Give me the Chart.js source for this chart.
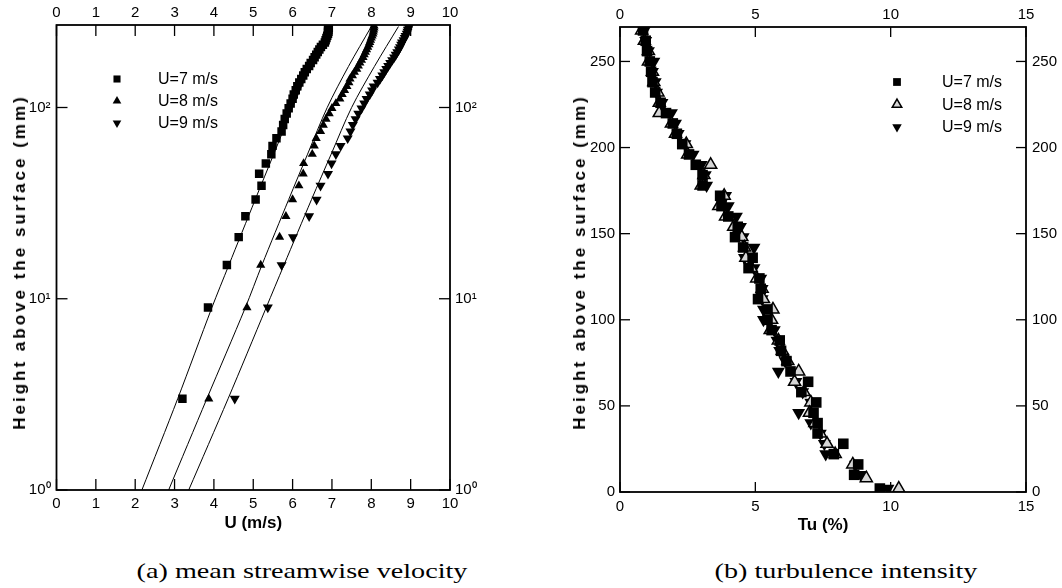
<!DOCTYPE html>
<html>
<head>
<meta charset="utf-8">
<script src="https://cdn.jsdelivr.net/npm/chart.js@4/dist/chart.umd.min.js"></script>
<style>
html,body{margin:0;padding:0;background:#fff;}
#wrap{position:relative;width:1062px;height:588px;overflow:hidden;background:#fff;}
#ca{position:absolute;left:0;top:0;}
#cb{position:absolute;left:545px;top:0;}
.ytitle{position:absolute;font:bold 17px "Liberation Sans",Arial,sans-serif;letter-spacing:3px;white-space:nowrap;color:#000;transform:translate(-50%,-50%) rotate(-90deg);}
.cap{position:absolute;font:22px "Liberation Serif","Times New Roman",serif;white-space:nowrap;color:#000;transform:translate(-50%,-50%) scaleX(1.28);}
</style>
</head>
<body>
<div id="wrap">
  <canvas id="ca" width="545" height="540"></canvas>
  <canvas id="cb" width="517" height="540"></canvas>
  <div class="ytitle" style="left:20px;top:262px;">Height above the surface (mm)</div>
  <div class="ytitle" style="left:580px;top:262px;">Height above the surface (mm)</div>
  <div class="cap" style="left:302px;top:571px;">(a) mean streamwise velocity</div>
  <div class="cap" style="left:846px;top:571px;">(b) turbulence intensity</div>
</div>
<script>
// ---------------- DATA: (a) mean streamwise velocity ----------------
const seriesNames = ['U=7 m/s', 'U=8 m/s', 'U=9 m/s'];

const heightsA = [3, 9, 15, 21, 27, 33, 39, 45, 51, 57, 63, 69, 75, 81, 87, 93, 99, 105, 111, 117, 123, 129, 135, 141, 147, 153, 159, 165, 171, 177, 183, 189, 195, 201, 207, 213, 219, 225, 231, 237, 243, 249, 255, 261, 267];
const velU7 = [3.2, 3.85, 4.33, 4.63, 4.80, 5.06, 5.21, 5.15, 5.32, 5.46, 5.49, 5.59, 5.72, 5.76, 5.80, 5.85, 5.90, 5.95, 6.00, 6.03, 6.08, 6.12, 6.17, 6.22, 6.27, 6.31, 6.36, 6.42, 6.46, 6.52, 6.56, 6.60, 6.64, 6.68, 6.72, 6.77, 6.82, 6.84, 6.86, 6.88, 6.90, 6.90, 6.91, 6.92, 6.90];
const velU8 = [3.87, 4.84, 5.19, 5.67, 5.83, 6.00, 6.16, 6.27, 6.28, 6.50, 6.55, 6.60, 6.71, 6.78, 6.85, 6.93, 7.00, 7.10, 7.20, 7.26, 7.32, 7.38, 7.43, 7.46, 7.52, 7.57, 7.63, 7.67, 7.71, 7.75, 7.79, 7.82, 7.85, 7.88, 7.91, 7.94, 7.96, 7.98, 8.00, 8.02, 8.04, 8.05, 8.06, 8.07, 8.07];
const velU9 = [4.53, 5.37, 5.72, 6.01, 6.42, 6.61, 6.71, 6.90, 6.99, 7.10, 7.22, 7.40, 7.47, 7.53, 7.60, 7.67, 7.75, 7.82, 7.88, 7.96, 8.02, 8.06, 8.16, 8.22, 8.28, 8.33, 8.38, 8.43, 8.48, 8.53, 8.58, 8.62, 8.66, 8.70, 8.73, 8.76, 8.78, 8.82, 8.85, 8.87, 8.90, 8.92, 8.93, 8.95, 8.95];

// fitted profiles (solid lines)
const fitHeights = [1, 3, 9, 15, 33, 57, 100, 164, 265];
const fitU7 = [2.17, 3.08, 3.95, 4.38, 5.05, 5.52, 6.00, 6.45, 6.90];
const fitU8 = [2.85, 3.82, 4.80, 5.22, 5.90, 6.38, 6.88, 7.42, 8.00];
const fitU9 = [3.36, 4.36, 5.33, 5.78, 6.48, 6.98, 7.50, 8.08, 8.69];

const xTicksA = [0, 1, 2, 3, 4, 5, 6, 7, 8, 9, 10];
const yTickValuesA = [1, 10, 100];
const yTickLabelsA = ['10\u2070', '10\u00B9', '10\u00B2'];

// ---------------- DATA: (b) turbulence intensity ----------------
const hTu7 = [268, 262, 256, 250, 244, 238, 232, 226, 220, 214, 208, 202, 196, 190, 184, 178, 172, 166, 160, 154, 148, 142, 136, 130, 124, 118, 112, 106, 100, 94, 88, 82, 76, 70, 64, 58, 52, 46, 40, 34, 28, 22, 16, 10, 2];
const tuU7 = [0.85, 0.95, 1.0, 1.1, 1.15, 1.2, 1.3, 1.5, 1.7, 1.95, 2.1, 2.3, 2.55, 2.8, 3.05, 3.05, 3.7, 3.75, 4.0, 4.35, 4.25, 4.55, 4.9, 4.75, 5.15, 5.2, 5.1, 5.45, 5.45, 5.6, 5.9, 5.95, 6.15, 6.3, 6.95, 6.7, 7.25, 7.15, 7.3, 7.3, 8.25, 7.9, 8.8, 8.65, 9.6];
const hTu8 = [268, 262, 256, 250, 244, 238, 232, 226, 220, 214, 208, 202, 196, 190, 184, 178, 172, 166, 160, 154, 148, 142, 136, 130, 124, 118, 112, 106, 100, 94, 88, 82, 76, 70, 64, 58, 52, 46, 40, 34, 28, 22, 16, 8, 2];
const tuU8 = [0.8, 0.9, 1.05, 1.05, 1.2, 1.25, 1.4, 1.45, 1.45, 1.9, 2.05, 2.45, 2.5, 3.35, 3.1, 3.0, 3.85, 3.65, 3.9, 4.2, 4.5, 4.6, 4.65, 4.85, 5.05, 5.25, 5.3, 5.65, 5.6, 5.55, 5.85, 6.0, 6.2, 6.6, 6.45, 6.8, 7.05, 7.0, 7.2, 7.4, 7.65, 7.95, 8.6, 9.1, 10.3];
const hTu9 = [268, 262, 256, 250, 244, 238, 232, 226, 220, 214, 208, 202, 196, 190, 184, 178, 172, 166, 160, 154, 148, 142, 136, 130, 124, 118, 112, 106, 100, 94, 88, 82, 76, 70, 64, 58, 52, 46, 40, 34, 28, 22, 16, 10, 2];
const tuU9 = [0.9, 0.95, 1.05, 1.25, 1.2, 1.3, 1.35, 1.55, 1.9, 2.05, 2.15, 2.4, 2.7, 3.0, 3.15, 3.2, 3.9, 4.0, 4.3, 4.45, 4.55, 4.95, 4.6, 4.95, 5.2, 5.25, 5.25, 5.3, 5.3, 5.7, 5.8, 5.9, 6.1, 5.85, 6.5, 6.75, 7.05, 6.6, 7.05, 7.4, 7.55, 7.6, 8.7, 8.9, 9.9];

const xTicksB = [0, 5, 10, 15];
const yTicksB = [0, 50, 100, 150, 200, 250];

// ---------------- helpers ----------------
const pts = (xs, ys) => xs.map((x, i) => ({x: x, y: ys[i]}));
const TICK_FONT = {family: '"Liberation Sans Narrow","Arial Narrow","Liberation Sans",Arial,sans-serif', size: 15};
const TITLE_FONT = {family: '"Liberation Sans",Arial,sans-serif', size: 17, weight: 'bold'};

function fallbackPoint(ctx, o, x, y) {
  const r = o.radius;
  ctx.save();
  ctx.translate(x, y);
  ctx.rotate((o.rotation || 0) * Math.PI / 180);
  ctx.beginPath();
  if (o.pointStyle === 'rect') {
    const s = r * Math.SQRT1_2;
    ctx.rect(-s, -s, 2 * s, 2 * s);
  } else {
    const w = r * Math.sqrt(3);
    ctx.moveTo(0, -r); ctx.lineTo(w / 2, r / 2); ctx.lineTo(-w / 2, r / 2); ctx.closePath();
  }
  ctx.fill();
  if (o.borderWidth) ctx.stroke();
  ctx.restore();
}
function drawSym(ctx, o, x, y) {
  if (Chart.helpers && Chart.helpers.drawPoint) Chart.helpers.drawPoint(ctx, o, x, y);
  else fallbackPoint(ctx, o, x, y);
}

const frameTicks = {
  id: 'frameTicks',
  afterDraw(chart, args, o) {
    const ctx = chart.ctx, ca = chart.chartArea, L = o.len || 10;
    ctx.save();
    ctx.strokeStyle = '#000';
    ctx.lineWidth = 1.3;
    Object.values(chart.scales).forEach(s => {
      s.ticks.forEach(t => {
        const p = s.getPixelForValue(t.value);
        ctx.beginPath();
        if (s.position === 'bottom') { ctx.moveTo(p, ca.bottom); ctx.lineTo(p, ca.bottom - L); }
        else if (s.position === 'top') { ctx.moveTo(p, ca.top); ctx.lineTo(p, ca.top + L); }
        else if (s.position === 'left') { ctx.moveTo(ca.left, p); ctx.lineTo(ca.left + L, p); }
        else { ctx.moveTo(ca.right, p); ctx.lineTo(ca.right - L, p); }
        ctx.stroke();
      });
    });
    ctx.lineWidth = 1.8;
    ctx.strokeRect(ca.left, ca.top, ca.right - ca.left, ca.bottom - ca.top);
    ctx.restore();
  }
};

const inLegend = {
  id: 'inLegend',
  afterDraw(chart, args, o) {
    const ctx = chart.ctx, ca = chart.chartArea;
    const items = chart.data.datasets.filter(d => d.inLegend);
    ctx.save();
    items.forEach((d, i) => {
      const x = ca.left + o.left, y = ca.top + o.top + i * o.gap;
      ctx.fillStyle = d.backgroundColor;
      ctx.strokeStyle = d.borderColor;
      ctx.lineWidth = d.borderWidth || 0;
      drawSym(ctx, {pointStyle: d.pointStyle, radius: o.radius, rotation: d.rotation || 0, borderWidth: d.borderWidth || 0}, x, y);
      ctx.fillStyle = '#000';
      ctx.font = o.font;
      ctx.textAlign = 'left';
      ctx.textBaseline = 'middle';
      ctx.fillText(d.label, x + o.textGap, y + 1);
    });
    ctx.restore();
  }
};

function hidden(extra) {
  return Object.assign({grid: {display: false, drawTicks: false}, border: {display: false}}, extra);
}

// ---------------- Chart (a) ----------------
const lineDs = (xs, ys) => ({type: 'scatter', data: pts(xs, ys), showLine: true, tension: 0.3, pointRadius: 0, borderColor: '#000', borderWidth: 1, fill: false, xAxisID: 'x', yAxisID: 'y'});

new Chart(document.getElementById('ca'), {
  type: 'scatter',
  data: {
    datasets: [
      lineDs(fitU7, fitHeights),
      lineDs(fitU8, fitHeights),
      lineDs(fitU9, fitHeights),
      {label: seriesNames[0], inLegend: true, data: pts(velU7, heightsA), pointStyle: 'rect', pointRadius: 6, backgroundColor: '#000', borderColor: '#000', borderWidth: 0, xAxisID: 'x', yAxisID: 'y'},
      {label: seriesNames[1], inLegend: true, data: pts(velU8, heightsA), pointStyle: 'triangle', pointRadius: 5.3, backgroundColor: '#000', borderColor: '#000', borderWidth: 0, xAxisID: 'x', yAxisID: 'y'},
      {label: seriesNames[2], inLegend: true, data: pts(velU9, heightsA), pointStyle: 'triangle', rotation: 180, pointRadius: 5.8, backgroundColor: '#000', borderColor: '#000', borderWidth: 0, xAxisID: 'x', yAxisID: 'y'}
    ]
  },
  options: {
    responsive: false, animation: false, devicePixelRatio: 1,
    layout: {padding: 0},
    plugins: {
      legend: {display: false}, tooltip: {enabled: false},
      frameTicks: {len: 11},
      inLegend: {left: 60.5, top: 54, gap: 22, radius: 5, textGap: 41, font: '16px "Liberation Sans Narrow","Arial Narrow","Liberation Sans",Arial,sans-serif'}
    },
    scales: {
      x: hidden({type: 'linear', position: 'bottom', min: 0, max: 10,
        afterBuildTicks: s => { s.ticks = xTicksA.map(v => ({value: v})); },
        ticks: {font: TICK_FONT, color: '#000', padding: 5, autoSkip: false, maxRotation: 0},
        title: {display: true, text: 'U (m/s)', font: TITLE_FONT, color: '#000', padding: {top: 6, bottom: 6}},
        afterFit: s => { s.height = 50; }}),
      x2: hidden({type: 'linear', position: 'top', min: 0, max: 10,
        afterBuildTicks: s => { s.ticks = xTicksA.map(v => ({value: v})); },
        ticks: {font: TICK_FONT, color: '#000', padding: 3, autoSkip: false, maxRotation: 0},
        afterFit: s => { s.height = 25; }}),
      y: hidden({type: 'logarithmic', position: 'left', min: 1, max: 270,
        afterBuildTicks: s => { s.ticks = yTickValuesA.map(v => ({value: v})); },
        ticks: {font: TICK_FONT, color: '#000', padding: 6, autoSkip: false, callback: v => { const i = yTickValuesA.indexOf(v); return i >= 0 ? yTickLabelsA[i] : ''; }},
        afterFit: s => { s.width = 56.5; }}),
      y2: hidden({type: 'logarithmic', position: 'right', min: 1, max: 270,
        afterBuildTicks: s => { s.ticks = yTickValuesA.map(v => ({value: v})); },
        ticks: {font: TICK_FONT, color: '#000', padding: 5, autoSkip: false, callback: v => { const i = yTickValuesA.indexOf(v); return i >= 0 ? yTickLabelsA[i] : ''; }},
        afterFit: s => { s.width = 95; }})
    }
  },
  plugins: [frameTicks, inLegend]
});

// ---------------- Chart (b) ----------------
new Chart(document.getElementById('cb'), {
  type: 'scatter',
  data: {
    datasets: [
      {label: seriesNames[0], inLegend: true, data: pts(tuU7, hTu7), pointStyle: 'rect', pointRadius: 7.5, backgroundColor: '#000', borderColor: '#000', borderWidth: 0},
      {label: seriesNames[1], inLegend: true, data: pts(tuU8, hTu8), pointStyle: 'triangle', pointRadius: 7, backgroundColor: '#d6d6d6', borderColor: '#000', borderWidth: 1.5},
      {label: seriesNames[2], inLegend: true, data: pts(tuU9, hTu9), pointStyle: 'triangle', rotation: 180, pointRadius: 7.5, backgroundColor: '#000', borderColor: '#000', borderWidth: 0}
    ]
  },
  options: {
    responsive: false, animation: false, devicePixelRatio: 1,
    layout: {padding: 0},
    plugins: {
      legend: {display: false}, tooltip: {enabled: false},
      frameTicks: {len: 10},
      inLegend: {left: 277, top: 55, gap: 22.5, radius: 5.5, textGap: 45, font: '16px "Liberation Sans Narrow","Arial Narrow","Liberation Sans",Arial,sans-serif'}
    },
    scales: {
      x: hidden({type: 'linear', position: 'bottom', min: 0, max: 15,
        afterBuildTicks: s => { s.ticks = xTicksB.map(v => ({value: v})); },
        ticks: {font: TICK_FONT, color: '#000', padding: 6, autoSkip: false, maxRotation: 0},
        title: {display: true, text: 'Tu (%)', font: TITLE_FONT, color: '#000', padding: {top: 4, bottom: 4}},
        afterFit: s => { s.height = 48; }}),
      x2: hidden({type: 'linear', position: 'top', min: 0, max: 15,
        afterBuildTicks: s => { s.ticks = xTicksB.map(v => ({value: v})); },
        ticks: {font: TICK_FONT, color: '#000', padding: 3, autoSkip: false, maxRotation: 0},
        afterFit: s => { s.height = 27; }}),
      y: hidden({type: 'linear', position: 'left', min: 0, max: 270,
        afterBuildTicks: s => { s.ticks = yTicksB.map(v => ({value: v})); },
        ticks: {font: TICK_FONT, color: '#000', padding: 5, autoSkip: false},
        afterFit: s => { s.width = 75; }}),
      y2: hidden({type: 'linear', position: 'right', min: 0, max: 270,
        afterBuildTicks: s => { s.ticks = yTicksB.map(v => ({value: v})); },
        ticks: {font: TICK_FONT, color: '#000', padding: 6, autoSkip: false},
        afterFit: s => { s.width = 36; }})
    }
  },
  plugins: [frameTicks, inLegend]
});
</script>
</body>
</html>
